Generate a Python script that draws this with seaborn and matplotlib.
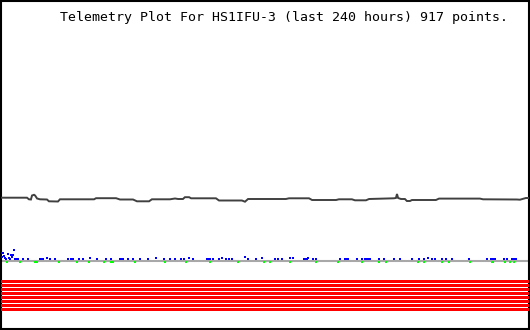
import matplotlib
matplotlib.use("Agg")
import matplotlib.pyplot as plt
import seaborn as sns
import pandas as pd

# ---- data -------------------------------------------------------------
title = "Telemetry Plot For HS1IFU-3 (last 240 hours) 917 points."

# main telemetry trace (hours ago -> value)
line_hours = [0.0, 11.8, 12.7, 13.6, 14.1, 15.0, 15.5, 16.4, 17.7, 20.9, 21.8, 25.9,
              26.8, 42.3, 43.2, 52.3, 54.1, 60.0, 61.8, 67.3, 68.6, 76.8, 79.1, 80.5,
              82.7, 83.6, 85.5, 86.4, 97.7, 99.1, 109.5, 110.9, 112.3, 129.5, 130.9,
              140.0, 141.4, 152.3, 153.6, 159.5, 160.9, 165.9, 167.3, 178.6, 179.5,
              180.0, 180.5, 181.8, 183.6, 184.5, 185.9, 186.8, 197.7, 199.1, 217.7,
              219.1, 234.5, 235.9, 238.6, 240.0]
line_values = [6.33, 6.33, 6.17, 6.15, 6.55, 6.62, 6.55, 6.25, 6.17, 6.15, 5.97, 5.95,
               6.17, 6.17, 6.28, 6.28, 6.15, 6.15, 5.97, 5.97, 6.17, 6.17, 6.25, 6.20,
               6.20, 6.38, 6.38, 6.27, 6.27, 6.05, 6.05, 5.93, 6.20, 6.20, 6.27,
               6.27, 6.10, 6.10, 6.17, 6.17, 6.07, 6.07, 6.20, 6.27, 6.30,
               6.70, 6.30, 6.20, 6.20, 6.00, 6.00, 6.10, 6.10, 6.24, 6.24,
               6.17, 6.15, 6.13, 6.30, 6.30]

# secondary (noise) channel samples
blue_hours = [0.0, 0.5, 0.9, 1.4, 1.8, 2.3, 3.2, 3.6, 4.1, 4.5, 5.0, 5.5, 5.9, 6.4, 6.8,
              7.3, 7.7, 10.0, 12.3, 17.7, 18.2, 18.6, 19.1, 20.9, 22.3, 24.5, 30.5,
              31.8, 32.3, 32.7, 35.5, 37.3, 40.5, 43.6, 47.7, 50.0, 54.1, 54.5, 55.0,
              55.5, 57.7, 60.0, 63.2, 66.8, 70.5, 74.1, 76.8, 79.1, 81.8, 83.2, 85.5,
              87.3, 93.6, 94.1, 94.5, 95.0, 96.4, 99.1, 100.5, 102.3, 103.6, 105.0,
              110.9, 112.3, 115.9, 118.6, 124.5, 125.9, 127.7, 131.4, 132.7, 137.7,
              138.2, 138.6, 139.1, 139.5, 141.8, 143.2, 154.1, 156.4, 156.8, 157.3,
              157.7, 161.8, 164.1, 165.5, 165.9, 166.8, 167.7, 171.8, 174.1, 178.6,
              181.4, 186.8, 190.0, 192.3, 194.1, 195.9, 197.3, 200.5, 202.3, 205.0,
              212.7, 220.9, 222.7, 223.2, 224.1, 224.5, 228.6, 230.0, 232.3, 232.7,
              233.6, 234.1]
blue_values = [0.83, 0.43, 0.83, 0.53, 0.33, 0.23, 0.73, 0.33, 0.23, 0.63, 0.43, 0.63,
               1.13, 0.23, 0.23, 0.23, 0.23, 0.17, 0.17, 0.2, 0.2, 0.2, 0.2, 0.33, 0.2,
               0.2, 0.2, 0.2, 0.2, 0.2, 0.2, 0.2, 0.3, 0.2, 0.2, 0.2, 0.2, 0.2, 0.2,
               0.2, 0.2, 0.2, 0.2, 0.2, 0.3, 0.2, 0.2, 0.2, 0.2, 0.2, 0.3,
               0.2, 0.2, 0.2, 0.2, 0.2, 0.2, 0.2, 0.3, 0.2, 0.2, 0.2,
               0.37, 0.2, 0.2, 0.3, 0.2, 0.2, 0.2, 0.3, 0.3, 0.2,
               0.2, 0.2, 0.2, 0.3, 0.2, 0.2, 0.2, 0.2, 0.2, 0.2,
               0.2, 0.2, 0.2, 0.2, 0.2, 0.2, 0.2, 0.2, 0.2, 0.2,
               0.2, 0.2, 0.2, 0.2, 0.3, 0.2, 0.2, 0.2, 0.2, 0.2,
               0.2, 0.2, 0.2, 0.2, 0.2, 0.2, 0.2, 0.2, 0.2, 0.2,
               0.2, 0.2]

# third channel samples sitting on the baseline
green_hours = [2.7, 8.6, 15.5, 16.4, 26.4, 34.5, 40.0, 46.8, 50.0, 50.9, 60.9, 74.5,
               84.1, 95.0, 107.7, 119.5, 122.3, 131.4, 143.2, 153.2, 164.1, 171.8,
               175.0, 189.5, 192.3, 200.5, 203.6, 213.2, 223.2, 223.6, 229.1, 231.4,
               233.2]
green_values = [-0.05] * len(green_hours)

# status flags (all set over the whole window)
flag_names = ["F1", "F2", "F3", "F4", "F5", "F6", "F7", "F8"]
flag_span = [240, 240, 240, 240, 240, 240, 240, 240]

# ---- plot -------------------------------------------------------------
sns.set_theme(style="white")
W, H = 530, 330
fig = plt.figure(figsize=(W / 100, H / 100), dpi=100)
fig.patch.set_facecolor("white")

ax = fig.add_axes([1 / W, 1 / H, 528 / W, 328 / H])
ax.set_facecolor("white")
ax.axhline(0, color="#a8a8a8", lw=1.5, zorder=1)

df_line = pd.DataFrame({"hours": line_hours, "value": line_values})
sns.lineplot(data=df_line, x="hours", y="value", ax=ax, color="#404040",
             lw=1.4, zorder=3, solid_joinstyle="miter", solid_capstyle="butt")

df_blue = pd.DataFrame({"hours": blue_hours, "value": blue_values})
sns.scatterplot(data=df_blue, x="hours", y="value", ax=ax, color="#0000ff",
                marker="s", s=1.6, linewidth=0, zorder=4)
df_green = pd.DataFrame({"hours": green_hours, "value": green_values})
sns.scatterplot(data=df_green, x="hours", y="value", ax=ax, color="#00ff00",
                marker="s", s=1.6, linewidth=0, zorder=5)

ax.set_xlim(0, 240)
ax.set_ylim(-6.8, 26.0)
ax.set_xticks([])
ax.set_yticks([])
ax.set_xlabel("")
ax.set_ylabel("")
for sp in ax.spines.values():
    sp.set_visible(True)
    sp.set_color("black")
    sp.set_linewidth(1.5)

ax2 = fig.add_axes([1 / W, 18 / H, 528 / W, 32 / H])
ax2.patch.set_alpha(0)
df_flag = pd.DataFrame({"flag": flag_names, "span": flag_span})
sns.barplot(data=df_flag, x="span", y="flag", orient="h", ax=ax2, color="#ff0000",
            saturation=1, width=0.75, linewidth=0, errorbar=None)
ax2.set_xlim(0, 240)
ax2.set_ylim(7.625, -0.375)
ax2.set_xticks([])
ax2.set_yticks([])
ax2.set_xlabel("")
ax2.set_ylabel("")
for sp in ax2.spines.values():
    sp.set_visible(False)

fig.text(0.535, 0.948, title, ha="center", va="center",
         family="DejaVu Sans Mono", fontsize=9.5, color="black")

fig.savefig("out.png", dpi=100, facecolor="white")
